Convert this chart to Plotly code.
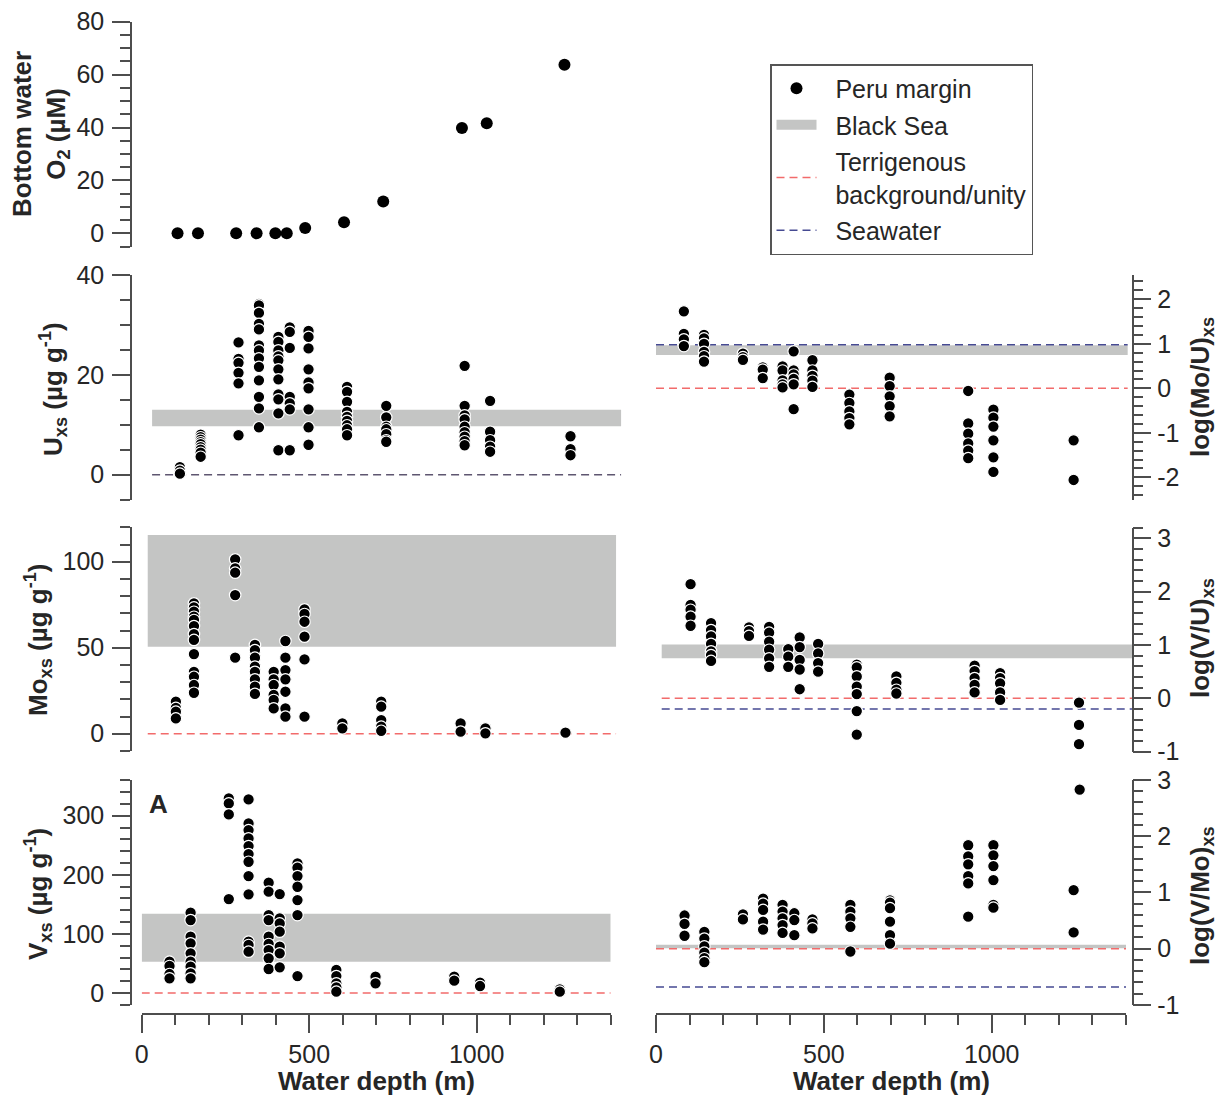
import plotly.graph_objects as go

# ---------------- data ----------------
depth_o2 = [107, 168, 282, 343, 399, 433, 488, 604, 721, 956, 1030, 1262]
o2_uM = [0, 0, 0, 0, 0, 0, 2.0, 4.2, 12.0, 39.8, 41.6, 63.7]

depth_u = [114, 176, 289, 350, 408, 442, 498, 613, 730, 964, 1040, 1280]
u_xs = [
    [1.5, 0.8, 0.2],
    [8.0, 7.5, 7.0, 6.5, 6.1, 5.5, 5.0, 4.4, 3.6],
    [26.5, 23.2, 22.4, 20.4, 18.3, 7.9],
    [34.2, 33.9, 32.4, 30.2, 29.1, 25.9, 24.9, 23.3, 21.6, 18.9, 15.6, 13.3, 9.5],
    [27.6, 26.6, 24.9, 23.7, 22.9, 21.1, 19.1, 16.1, 15.1, 12.3, 4.9],
    [29.5, 28.6, 25.4, 15.6, 14.3, 13.1, 4.9],
    [28.8, 27.6, 25.3, 21.1, 18.5, 17.3, 13.1, 9.5, 6.0],
    [17.6, 16.6, 14.6, 12.6, 11.6, 10.8, 9.9, 9.1, 7.9],
    [13.8, 11.5, 9.6, 9.1, 8.1, 6.9, 6.6],
    [21.8, 13.8, 11.9, 11.1, 9.6, 8.5, 7.6, 6.7, 5.9],
    [14.8, 8.6, 6.9, 5.6, 4.6],
    [7.7, 5.1, 3.9],
]

depth_mo = [102, 156, 279, 338, 394, 429, 486, 599, 715, 952, 1026, 1265]
mo_xs = [
    [18.6, 15.0, 12.8, 8.9],
    [75.8, 73.4, 70.9, 68.0, 66.1, 62.6, 57.9, 54.5, 46.3, 36.0, 33.1, 28.3, 23.8],
    [101.4, 96.1, 93.6, 80.6, 44.2],
    [51.6, 48.6, 44.2, 39.0, 36.0, 31.6, 27.3, 23.1],
    [36.0, 31.6, 28.3, 22.5, 19.6, 14.7],
    [53.9, 44.2, 37.0, 31.6, 24.4, 14.7, 9.9],
    [72.3, 69.6, 65.1, 56.4, 43.2, 9.9],
    [6.0, 3.1],
    [18.6, 15.7, 7.9, 4.1, 1.7],
    [6.0, 1.2],
    [3.1, 0.2],
    [0.6],
]

depth_v = [83, 146, 260, 319, 379, 412, 465, 581, 698, 933, 1010, 1248]
v_xs = [
    [53.0, 45.7, 32.1, 24.8],
    [135.9, 123.4, 95.3, 84.0, 67.1, 53.0, 44.5, 33.3, 24.8],
    [329.2, 320.7, 302.1, 158.9],
    [327.5, 286.9, 275.6, 261.6, 248.6, 235.1, 222.1, 197.9, 166.9, 86.8, 81.2, 69.9],
    [186.6, 171.4, 131.9, 123.4, 95.3, 82.9, 72.7, 58.6, 40.6],
    [167.4, 126.3, 117.8, 103.7, 78.4, 67.1, 43.4],
    [219.3, 212.0, 197.9, 179.8, 157.3, 131.9, 28.7],
    [38.9, 28.7, 16.3, 9.6, 2.3],
    [27.6, 16.3],
    [27.6, 20.9],
    [17.5, 11.8],
    [6.2, 2.3],
]

depth_mo_u = [83, 143, 259, 318, 377, 410, 466, 576, 696, 930, 1005, 1244]
log_mo_u = [
    [1.73, 1.22, 1.10, 0.95],
    [1.20, 1.12, 1.00, 0.82, 0.72, 0.60],
    [0.78, 0.70, 0.64],
    [0.47, 0.42, 0.23],
    [0.49, 0.40, 0.18, 0.09, 0.02],
    [0.83, 0.40, 0.31, 0.21, 0.09, -0.47],
    [0.63, 0.40, 0.28, 0.17, 0.03],
    [-0.14, -0.33, -0.52, -0.67, -0.81],
    [0.24, 0.05, -0.18, -0.40, -0.63],
    [-0.06, -0.79, -1.02, -1.24, -1.40, -1.57],
    [-0.48, -0.66, -0.86, -1.17, -1.55, -1.88],
    [-1.17, -2.06],
]

depth_v_u = [103, 164, 277, 337, 394, 428, 483, 598, 716, 949, 1025, 1260]
log_v_u = [
    [2.14, 1.75, 1.66, 1.53, 1.36],
    [1.41, 1.28, 1.16, 1.02, 0.88, 0.81, 0.70],
    [1.33, 1.26, 1.17],
    [1.34, 1.23, 1.06, 0.91, 0.75, 0.59],
    [0.92, 0.78, 0.59],
    [1.14, 0.96, 0.72, 0.54, 0.17],
    [1.02, 0.84, 0.66, 0.50],
    [0.63, 0.58, 0.41, 0.22, 0.08, -0.24, -0.68],
    [0.41, 0.29, 0.16, 0.09],
    [0.61, 0.51, 0.38, 0.25, 0.11],
    [0.47, 0.38, 0.28, 0.11, -0.03],
    [-0.08, -0.50, -0.86],
]

depth_v_mo = [85, 144, 259, 319, 377, 412, 466, 579, 697, 930, 1005, 1244, 1262]
log_v_mo = [
    [0.59, 0.44, 0.23],
    [0.30, 0.18, 0.04, -0.07, -0.17, -0.24],
    [0.61, 0.52],
    [0.89, 0.80, 0.69, 0.48, 0.34],
    [0.78, 0.66, 0.54, 0.42, 0.28],
    [0.63, 0.51, 0.24],
    [0.52, 0.45, 0.36],
    [0.78, 0.66, 0.54, 0.39, -0.05],
    [0.86, 0.82, 0.72, 0.48, 0.24, 0.09],
    [1.84, 1.64, 1.50, 1.29, 1.16, 0.57],
    [1.84, 1.66, 1.47, 1.22, 0.78, 0.73],
    [1.04, 0.29],
    [2.83],
]

# Black Sea ranges (low, high)
black_sea_u = [9.7, 13.0]
black_sea_mo = [50.5, 115.5]
black_sea_v = [53.0, 134.0]
black_sea_mo_u = [0.75, 0.97]
black_sea_v_u = [0.75, 1.01]
black_sea_v_mo = [0.01, 0.07]

# reference levels
terrigenous_level = 0.0
seawater_mo_u = 0.98
seawater_v_u = -0.2
seawater_v_mo = -0.68

depth_ticks = [0, 500, 1000]
o2_ticks = [0, 20, 40, 60, 80]
u_ticks = [0, 20, 40]
mo_ticks = [0, 50, 100]
v_ticks = [0, 100, 200, 300]
mo_u_ticks = [-2, -1, 0, 1, 2]
v_u_ticks = [-1, 0, 1, 2, 3]
v_mo_ticks = [-1, 0, 1, 2, 3]

legend_names = ["Peru margin", "Black Sea", "Terrigenous<br>background/unity", "Seawater"]

# ---------------- layout helpers ----------------
W, H, OFF = 1223, 1097, 0
FONT = "Liberation Sans, Arial, Helvetica, sans-serif"
AX = "#4d4d4d"
TXT = "#262626"
BAND = "#c4c5c4"
RED = "#f26b6b"
NAVY = "#464a92"
GREYDASH = "#5e5670"
DASH = "8px,5px"
TICKFONT = 25
TITLEFONT = 26
MAJ, MIN = 18, 10


def X(px):
    return (px - OFF) / W


def Y(px):
    return 1 - (px - OFF) / H


LEFT_X0, LEFT_PPM = 141.7, 469.0 / 1400
RIGHT_X0, RIGHT_PPM = 656.0, 470.0 / 1400
LEFT_YAX, RIGHT_YAX = 131.0, 1132.5


def xspan(side, xr):
    x0, ppm = (LEFT_X0, LEFT_PPM) if side == "left" else (RIGHT_X0, RIGHT_PPM)
    return [X(x0 + xr[0] * ppm), X(x0 + xr[1] * ppm)]


def yspan(yr, ref):
    (v0, p0), (v1, p1) = ref
    s = (p1 - p0) / (v1 - v0)
    top = p0 + (yr[1] - v0) * s
    bot = p0 + (yr[0] - v0) * s
    return [Y(bot), Y(top)]


def fmt(v):
    return str(v)


panels = [
    dict(side="left", xr=[-0.01, 1400.01], yr=[-5, 80.01], ref=((0, 233.3), (80, 21.7)),
         ticks=o2_ticks, minor=5, xshow=False, depth=depth_o2, vals=[[v] for v in o2_uM],
         band=None, lines=[]),
    dict(side="left", xr=[-0.01, 1435], yr=[-5, 40.01], ref=((0, 474.7), (40, 275)),
         ticks=u_ticks, minor=5, xshow=False, depth=depth_u, vals=u_xs,
         band=(black_sea_u, 31, 1431), lines=[(terrigenous_level, GREYDASH, 31, 1431)]),
    dict(side="left", xr=[-0.01, 1420], yr=[-10, 120.01], ref=((0, 733.7), (100, 561.7)),
         ticks=mo_ticks, minor=10, xshow=False, depth=depth_mo, vals=mo_xs,
         band=(black_sea_mo, 18, 1416), lines=[(terrigenous_level, RED, 18, 1416)]),
    dict(side="left", xr=[-0.01, 1400.01], yr=[-20, 360.01], ref=((0, 993), (300, 815.7)),
         ticks=v_ticks, minor=20, xshow=True, depth=depth_v, vals=v_xs,
         band=(black_sea_v, 0, 1400), lines=[(terrigenous_level, RED, 0, 1400)]),
    dict(side="right", xr=[-0.01, 1425], yr=[-2.5, 2.55], ref=((0, 388.3), (2, 299.3)),
         ticks=mo_u_ticks, minor=0.2, xshow=False, depth=depth_mo_u, vals=log_mo_u,
         band=(black_sea_mo_u, 0, 1405),
         lines=[(terrigenous_level, RED, 0, 1405), (seawater_mo_u, NAVY, 0, 1405)]),
    dict(side="right", xr=[-0.01, 1425], yr=[-1.001, 3.2], ref=((0, 698.3), (3, 538.3)),
         ticks=v_u_ticks, minor=0.2, xshow=False, depth=depth_v_u, vals=log_v_u,
         band=(black_sea_v_u, 17, 1421),
         lines=[(terrigenous_level, RED, 17, 1421), (seawater_v_u, NAVY, 17, 1421)]),
    dict(side="right", xr=[-0.01, 1400.01], yr=[-1.001, 3.001], ref=((0, 948.7), (3, 780)),
         ticks=v_mo_ticks, minor=0.2, xshow=True, depth=depth_v_mo, vals=log_v_mo,
         band=(black_sea_v_mo, 0, 1400),
         lines=[(terrigenous_level, RED, 0, 1400), (seawater_v_mo, NAVY, 0, 1400)]),
]

fig = go.Figure()
layout = dict(
    width=W, height=H, margin=dict(l=0, r=0, t=0, b=0, pad=0),
    paper_bgcolor="white", plot_bgcolor="rgba(0,0,0,0)",
    font=dict(family=FONT, color=TXT, size=TICKFONT),
    showlegend=True, hovermode=False,
)
shapes = []

for i, p in enumerate(panels, start=1):
    xid = "x" if i == 1 else f"x{i}"
    yid = "y" if i == 1 else f"y{i}"
    xname = "xaxis" if i == 1 else f"xaxis{i}"
    yname = "yaxis" if i == 1 else f"yaxis{i}"

    if p["xshow"]:
        layout[xname] = dict(
            domain=xspan(p["side"], p["xr"]), range=p["xr"], anchor="free", position=Y(1014),
            showline=True, linecolor=AX, linewidth=1.5, ticks="outside", ticklen=MAJ,
            tickwidth=1.5, tickcolor=AX, tickvals=depth_ticks,
            ticktext=[fmt(t) for t in depth_ticks], showgrid=False, zeroline=False,
            tickfont=dict(size=TICKFONT, color=TXT, family=FONT), automargin=False,
            ticklabelstandoff=0,
            minor=dict(ticks="outside", ticklen=MIN, tickwidth=1.5, tickcolor=AX,
                       dtick=100, tick0=0, showgrid=False),
            fixedrange=True,
        )
    else:
        layout[xname] = dict(domain=xspan(p["side"], p["xr"]), range=p["xr"], visible=False,
                             anchor=yid, showgrid=False, zeroline=False, fixedrange=True)

    layout[yname] = dict(
        domain=yspan(p["yr"], p["ref"]), range=p["yr"], anchor="free",
        position=X(LEFT_YAX if p["side"] == "left" else RIGHT_YAX), side=p["side"],
        showline=True, linecolor=AX, linewidth=1.5, ticks="outside", ticklen=MAJ,
        tickwidth=1.5, tickcolor=AX, tickvals=p["ticks"],
        ticktext=[fmt(t) for t in p["ticks"]], showgrid=False, zeroline=False,
        tickfont=dict(size=TICKFONT, color=TXT, family=FONT), automargin=False,
        ticklabelstandoff=3 if p["side"] == "left" else 1,
        minor=dict(ticks="outside", ticklen=MIN, tickwidth=1.5, tickcolor=AX,
                   dtick=p["minor"], tick0=0, showgrid=False),
        fixedrange=True,
    )

    if p["band"] is not None:
        (lo, hi), bx0, bx1 = p["band"]
        shapes.append(dict(type="rect", xref=xid, yref=yid, x0=bx0, x1=bx1, y0=lo, y1=hi,
                           fillcolor=BAND, line=dict(width=0), layer="below"))
    for lev, col, lx0, lx1 in p["lines"]:
        shapes.append(dict(type="line", xref=xid, yref=yid, x0=lx0, x1=lx1, y0=lev, y1=lev,
                           line=dict(color=col, width=1.5, dash=DASH), layer="below"))

    xs = [d for d, vals in zip(p["depth"], p["vals"]) for _ in vals]
    ys = [v for vals in p["vals"] for v in vals]
    first = i == 1
    fig.add_trace(go.Scatter(
        x=xs, y=ys, xaxis=xid, yaxis=yid, mode="markers",
        marker=dict(size=12 if first else 11.5, color="black",
                    line=dict(color="white", width=0 if first else 1.2)),
        name="\u00a0\u00a0" + legend_names[0], showlegend=first, legendrank=1,
        legendgroup="peru",
    ))

# legend-only entries
NB = "\u00a0\u00a0"
fig.add_trace(go.Scatter(x=[None], y=[None], mode="lines", name=NB + legend_names[1],
                         line=dict(color=BAND, width=13), legendrank=2, legendgroup="bs"))
fig.add_trace(go.Scatter(x=[None], y=[None], mode="lines",
                         name=NB + legend_names[2].replace("<br>", "<br>" + NB),
                         line=dict(color=RED, width=1.5, dash=DASH), legendrank=3, legendgroup="tb"))
fig.add_trace(go.Scatter(x=[None], y=[None], mode="lines", name=NB + legend_names[3],
                         line=dict(color=NAVY, width=1.5, dash=DASH), legendrank=4, legendgroup="sw"))

layout["legend"] = dict(
    x=X(770), y=Y(64), xanchor="left", yanchor="top",
    bordercolor="#555555", borderwidth=1.5, bgcolor="white",
    font=dict(size=25, family=FONT, color=TXT), itemwidth=40, tracegroupgap=1,
)

layout["shapes"] = shapes


def title(text, px, py):
    return dict(text=f"<b>{text}</b>", x=X(px), y=Y(py), xref="paper", yref="paper",
                xanchor="center", yanchor="middle", showarrow=False, textangle=-90,
                font=dict(size=TITLEFONT, family=FONT, color=TXT))


annotations = [
    title("Bottom water<br>O<sub>2</sub> (µM)", 40, 134),
    title("U<sub>xs</sub> (µg g<sup>-1</sup>)", 53, 389),
    title("Mo<sub>xs</sub> (µg g<sup>-1</sup>)", 38, 640),
    title("V<sub>xs</sub> (µg g<sup>-1</sup>)", 38, 894),
    title("log(Mo/U)<sub>xs</sub>", 1201, 387),
    title("log(V/U)<sub>xs</sub>", 1201, 638),
    title("log(V/Mo)<sub>xs</sub>", 1201, 896),
    dict(text="<b>Water depth (m)</b>", x=X(376), y=Y(1081), xref="paper", yref="paper",
         xanchor="center", yanchor="middle", showarrow=False,
         font=dict(size=TITLEFONT, family=FONT, color=TXT)),
    dict(text="<b>Water depth (m)</b>", x=X(891), y=Y(1081), xref="paper", yref="paper",
         xanchor="center", yanchor="middle", showarrow=False,
         font=dict(size=TITLEFONT, family=FONT, color=TXT)),
    dict(text="<b>A</b>", x=X(159), y=Y(804), xref="paper", yref="paper",
         xanchor="center", yanchor="middle", showarrow=False,
         font=dict(size=TITLEFONT, family=FONT, color=TXT)),
]
layout["annotations"] = annotations

fig.update_layout(**layout)
fig.write_html("out.html", config={"displayModeBar": False},
               post_script="document.body.style.margin='0px';")
